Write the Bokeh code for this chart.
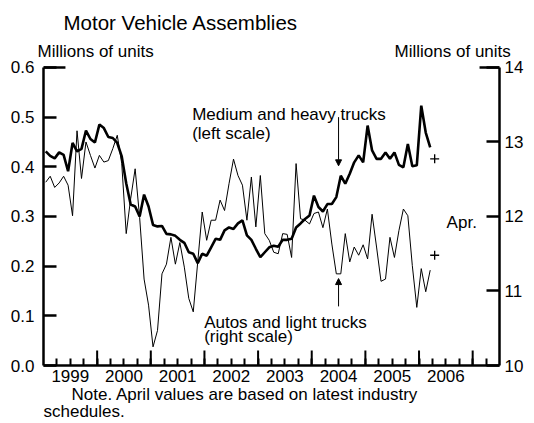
import pandas as pd
from bokeh.plotting import figure
from bokeh.models import (Range1d, LinearAxis, FixedTicker, NumeralTickFormatter,
                          CustomJSTickFormatter, Label, Arrow, NormalHead, Title)
from bokeh.embed import file_html
from bokeh.resources import INLINE

# ---------------- data (monthly, Jan 1999 - Mar 2006) ----------------
trucks = [0.431, 0.422, 0.417, 0.429, 0.424, 0.391, 0.448, 0.431, 0.436, 0.473, 0.456, 0.449,
          0.485, 0.478, 0.460, 0.458, 0.448, 0.421, 0.367, 0.324, 0.320, 0.300, 0.344, 0.320,
          0.283, 0.280, 0.281, 0.265, 0.264, 0.261, 0.253, 0.247, 0.228, 0.225, 0.206, 0.225,
          0.221, 0.238, 0.255, 0.253, 0.272, 0.278, 0.275, 0.286, 0.292, 0.262, 0.253, 0.235,
          0.218, 0.228, 0.238, 0.241, 0.239, 0.253, 0.253, 0.255, 0.278, 0.286, 0.295, 0.302,
          0.342, 0.319, 0.310, 0.325, 0.325, 0.339, 0.382, 0.366, 0.386, 0.409, 0.423, 0.409,
          0.483, 0.433, 0.416, 0.416, 0.429, 0.416, 0.429, 0.404, 0.399, 0.446, 0.401, 0.403,
          0.523, 0.469, 0.439]
autos = [12.46, 12.54, 12.39, 12.45, 12.54, 12.42, 12.01, 13.15, 12.51, 13.00, 12.82, 12.65,
         12.82, 12.73, 12.75, 12.91, 13.09, 12.71, 11.77, 12.24, 12.64, 11.99, 11.16, 10.81,
         10.25, 10.47, 11.23, 11.36, 11.72, 11.36, 11.65, 11.32, 10.90, 10.72, 11.39, 12.06,
         11.68, 11.95, 11.95, 12.22, 12.08, 12.44, 12.77, 12.55, 12.42, 11.95, 12.53, 11.86,
         12.55, 11.77, 11.68, 11.52, 11.50, 11.77, 11.76, 11.45, 12.71, 11.97, 11.95, 11.90,
         12.04, 12.06, 11.85, 12.10, 11.63, 11.23, 11.23, 11.77, 11.39, 11.59, 11.48, 11.62,
         11.43, 12.03, 11.59, 11.13, 11.16, 11.72, 11.45, 11.81, 12.10, 12.01, 11.34, 10.78,
         11.30, 10.99, 11.28]
april_trucks = 0.416
april_autos = 11.48
year_labels = ["1999", "2000", "2001", "2002", "2003", "2004", "2005", "2006"]
left_ticks = [0.0, 0.1, 0.2, 0.3, 0.4, 0.5, 0.6]
right_ticks = [10, 11, 12, 13, 14]

months = pd.date_range("1999-01-01", periods=len(trucks), freq="MS")
xs = list(months.year + (months.month - 0.5) / 12.0)
apr_x = 2006 + 3.5 / 12.0

# ---------------- layout constants ----------------
W, H = 526, 422
BL, BR, BT, BB = 43, 26, 61, 57
X0, X1 = 1999.0, 2007.5
YMAX = 0.612
RMAX = 10 + 4 * YMAX / 0.6
FW = W - BL - BR
FH = H - BT - BB
FONT = "Liberation Sans"
FS = "17px"


def px(xp, yp):
    """canvas pixel -> data coordinates (left scale)"""
    fx = xp - BL
    fy = (H - BB) - yp
    return X0 + fx / FW * (X1 - X0), fy / FH * YMAX


p = figure(width=W, height=H, x_range=Range1d(X0, X1), y_range=Range1d(0, YMAX),
           output_backend="svg", toolbar_location=None, title=None,
           x_axis_location=None, y_axis_location=None,
           min_border_left=BL, min_border_right=BR, min_border_top=BT, min_border_bottom=BB)
p.outline_line_color = None
p.xgrid.visible = False
p.ygrid.visible = False
p.extra_y_ranges = {"right": Range1d(10, RMAX)}

# ---------------- axes ----------------
mid_years = [int(y) + 0.5 for y in year_labels]
quarters = [1999 + q / 4 for q in range(1, 34)]
xaxis = LinearAxis(ticker=FixedTicker(ticks=mid_years, minor_ticks=quarters),
                   formatter=CustomJSTickFormatter(code="return String(Math.floor(tick));"))
xaxis.axis_line_width = 2.5
xaxis.major_tick_in = 0
xaxis.major_tick_out = 0
xaxis.minor_tick_in = 7
xaxis.minor_tick_out = 0
xaxis.minor_tick_line_width = 2
xaxis.major_label_standoff = 4
xaxis.major_label_text_font = FONT
xaxis.major_label_text_font_size = FS
xaxis.major_label_text_color = "black"
p.add_layout(xaxis, "below")

laxis = LinearAxis(ticker=FixedTicker(ticks=left_ticks), formatter=NumeralTickFormatter(format="0.0"),
                   bounds=(0, 0.6))
raxis = LinearAxis(y_range_name="right", ticker=FixedTicker(ticks=right_ticks), bounds=(10, 14))
for ax, so in ((laxis, 9), (raxis, 5)):
    ax.axis_line_width = 2.5
    ax.major_tick_in = 13
    ax.major_tick_out = 0
    ax.major_tick_line_width = 2.5
    ax.minor_tick_line_color = None
    ax.major_label_standoff = so
    ax.major_label_text_font = FONT
    ax.major_label_text_font_size = FS
    ax.major_label_text_color = "black"
p.add_layout(laxis, "left")
p.add_layout(raxis, "right")

# tall ticks at year boundaries and longer top ticks
tall = 15 / FH * YMAX
bounds = [int(y) + 1 for y in year_labels]
p.segment(x0=bounds, y0=[0] * len(bounds), x1=bounds, y1=[tall] * len(bounds),
          line_color="black", line_width=2)
ext_l = 22 / FW * (X1 - X0)
ext_r = 20 / FW * (X1 - X0)
p.segment(x0=[X0, X1 - ext_r], y0=[0.6, 0.6], x1=[X0 + ext_l, X1], y1=[0.6, 0.6],
          line_color="black", line_width=2.5)

# ---------------- series ----------------
p.line(xs, autos, y_range_name="right", line_color="black", line_width=1)
p.line(xs, trucks, line_color="black", line_width=2.6)
p.scatter([apr_x], [april_trucks], marker="cross", size=9, line_color="black", line_width=1.3)
p.scatter([apr_x], [april_autos], marker="cross", size=9, line_color="black", line_width=1.3,
          y_range_name="right")


# ---------------- texts ----------------
def title(text, where, offset, size=FS, standoff=0):
    p.add_layout(Title(text=text, align="left", offset=offset, standoff=standoff,
                       text_font=FONT, text_font_size=size, text_font_style="normal",
                       text_color="black"), where)


units = "Millions of units" + "\u00a0" * 51 + "Millions of units"
title(units, "above", 37 - BL, standoff=2)
title("Motor Vehicle Assemblies", "above", 63 - BL, size="20.5px", standoff=10)
title("Note. April values are based on latest industry", "below", 71 - BL, standoff=-4)
title("schedules.", "below", 43 - BL, standoff=-4)


def label(text, xp, yp, size=FS):
    x, y = px(xp, yp)
    p.add_layout(Label(x=x, y=y, text=text, text_font=FONT, text_font_size=size,
                       text_color="black", text_baseline="alphabetic", text_align="left"))


label("Medium and heavy trucks", 192, 114)
label("(left scale)", 192, 133)
label("Autos and light trucks", 204, 322)
label("(right scale)", 204, 336)
label("Apr.", 447, 222)

head = dict(size=6, fill_color="black", line_color="black")
p.add_layout(Arrow(end=NormalHead(**head), x_start=2004.5, y_start=0.5, x_end=2004.5, y_end=0.402,
                   line_width=1, line_color="black"))
p.add_layout(Arrow(end=NormalHead(**head), x_start=2004.5, y_start=0.119, x_end=2004.5, y_end=0.175,
                   line_width=1, line_color="black"))

open("out.html", "w").write(file_html(p, INLINE))
